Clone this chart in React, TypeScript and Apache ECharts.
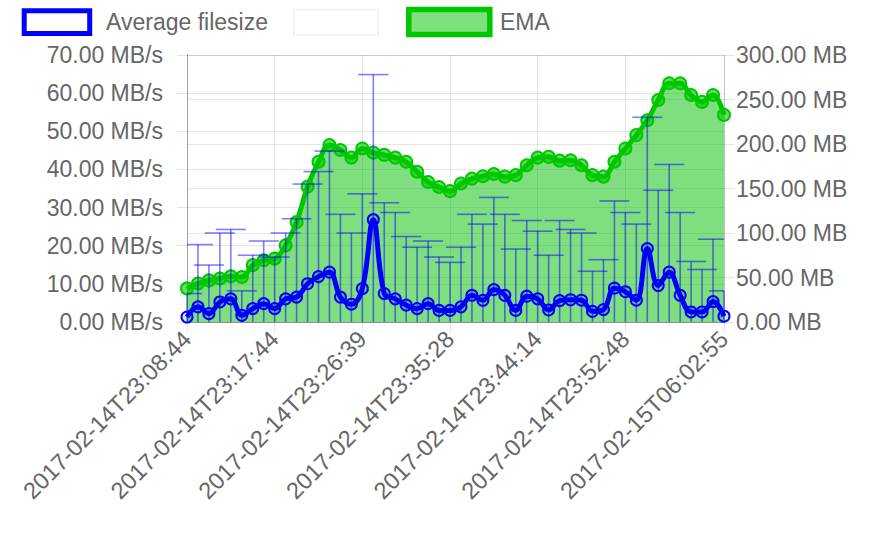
import React, { useEffect, useRef } from "react";
import * as echarts from "echarts";

const timeLabels: string[] = [
  "2017-02-14T23:08:44", "2017-02-14T23:09:52", "2017-02-14T23:10:59", "2017-02-14T23:12:06",
  "2017-02-14T23:13:14", "2017-02-14T23:14:21", "2017-02-14T23:15:29", "2017-02-14T23:16:36",
  "2017-02-14T23:17:44", "2017-02-14T23:18:51", "2017-02-14T23:19:58", "2017-02-14T23:21:04",
  "2017-02-14T23:22:11", "2017-02-14T23:23:18", "2017-02-14T23:24:25", "2017-02-14T23:25:32",
  "2017-02-14T23:26:39", "2017-02-14T23:27:45", "2017-02-14T23:28:51", "2017-02-14T23:29:57",
  "2017-02-14T23:31:03", "2017-02-14T23:32:10", "2017-02-14T23:33:16", "2017-02-14T23:34:22",
  "2017-02-14T23:35:28", "2017-02-14T23:36:34", "2017-02-14T23:37:40", "2017-02-14T23:38:45",
  "2017-02-14T23:39:51", "2017-02-14T23:40:57", "2017-02-14T23:42:03", "2017-02-14T23:43:08",
  "2017-02-14T23:44:14", "2017-02-14T23:45:18", "2017-02-14T23:46:22", "2017-02-14T23:47:27",
  "2017-02-14T23:48:31", "2017-02-14T23:49:35", "2017-02-14T23:50:39", "2017-02-14T23:51:44",
  "2017-02-14T23:52:48", "2017-02-14T23:53:52", "2017-02-14T23:54:57", "2017-02-14T23:56:01",
  "2017-02-14T23:57:05", "2017-02-14T23:58:10", "2017-02-14T23:59:14", "2017-02-15T00:00:18",
  "2017-02-15T00:01:23", "2017-02-15T06:02:55",
];

// Average filesize (MB, right axis)
const avgFilesize: number[] = [
  5.6, 17, 9.4, 22.5, 26, 7.5, 15, 20.6, 15, 26,
  28, 43, 51, 56, 28, 20, 37.5, 115, 32, 26,
  19, 15, 20.6, 13, 13, 17, 30, 24.4, 36.4, 30,
  13, 29, 26, 13.5, 24, 25, 24.5, 12, 14, 38,
  34, 24.5, 82.5, 41, 56, 30, 11.3, 11.3, 23, 6.5,
];

// Upper end of the error bars (MB, right axis)
const errorTop: number[] = [
  32, 87, 64, 100, 104, 35, 75, 91, 73, 100,
  116, 155, 169, 192, 121, 100, 144, 278, 134, 123,
  96, 84, 91, 73, 67, 84, 121, 110, 140, 121,
  82, 114, 102, 75, 114, 104, 100, 57, 70, 136,
  123, 110, 230, 148, 177, 123, 68, 59, 93, 35,
];

// EMA (MB/s, left axis)
const ema: number[] = [
  8.8, 10.1, 10.9, 11.4, 12.0, 11.8, 14.9, 16.2, 16.6, 20.1,
  26.2, 35.5, 42.0, 46.4, 45.1, 43.1, 45.5, 44.4, 43.8, 43.1,
  42.0, 39.4, 36.7, 35.4, 34.3, 36.3, 37.6, 38.2, 38.8, 38.1,
  38.5, 41.1, 43.1, 43.3, 42.3, 42.4, 41.1, 38.5, 38.1, 42.0,
  45.5, 49.0, 52.9, 58.2, 62.6, 62.6, 59.5, 57.7, 59.5, 54.3,
];

const leftTicks = { min: 0, max: 70, interval: 10 };
const rightTicks = { min: 0, max: 300, interval: 50 };

const FONT = "'Liberation Sans', Arial, Helvetica, sans-serif";
const TXT = "#666";

export default function App() {
  const ref = useRef<HTMLDivElement>(null);
  useEffect(() => {
    if (!ref.current) return;
    const chart = echarts.init(ref.current, undefined, { renderer: "svg" });
    const shown = (idx: number) => (idx % 8 === 0 && idx < 48) || idx === timeLabels.length - 1;
    const option: any = {
      animation: false,
      backgroundColor: "#fff",
      textStyle: { fontFamily: FONT },
      grid: { left: 187, right: 148, top: 55, bottom: 216 },
      graphic: [
        { type: "rect", shape: { x: 24.2, y: 10.8, width: 65.5, height: 22.7 }, style: { fill: "#fff", stroke: "#0000ff", lineWidth: 5 } },
        { type: "text", x: 106, y: 21.7, style: { text: "Average filesize", font: `23px ${FONT}`, fill: TXT, textVerticalAlign: "middle", verticalAlign: "middle" } },
        { type: "rect", shape: { x: 294, y: 9.5, width: 84, height: 25.5 }, style: { fill: "#fff", stroke: "#f3f3f3", lineWidth: 2 } },
        { type: "rect", shape: { x: 408.8, y: 9.5, width: 81, height: 25 }, style: { fill: "#7fe07f", stroke: "#00c800", lineWidth: 5.5 } },
        { type: "text", x: 500, y: 21.7, style: { text: "EMA", font: `23px ${FONT}`, fill: TXT, textVerticalAlign: "middle", verticalAlign: "middle" } },
      ],
      xAxis: {
        type: "category",
        data: timeLabels,
        boundaryGap: false,
        axisLine: { show: true, lineStyle: { color: "rgba(0,0,0,0.3)", width: 1 } },
        axisTick: { show: true, interval: shown, length: 10, lineStyle: { color: "rgba(0,0,0,0.1)" } },
        splitLine: { show: true, interval: shown, lineStyle: { color: "rgba(0,0,0,0.1)", width: 1 } },
        axisLabel: { interval: shown, rotate: 45, margin: 13, fontSize: 23.5, color: TXT, fontFamily: FONT },
      },
      yAxis: [
        {
          type: "value",
          position: "left",
          ...leftTicks,
          axisLine: { show: true, lineStyle: { color: "rgba(0,0,0,0.3)" } },
          axisTick: { show: true, length: 10, lineStyle: { color: "rgba(0,0,0,0.1)" } },
          splitLine: { show: true, lineStyle: { color: "rgba(0,0,0,0.1)" } },
          axisLabel: { margin: 24, fontSize: 23, color: TXT, fontFamily: FONT, formatter: (v: number) => v.toFixed(2) + " MB/s" },
        },
        {
          type: "value",
          position: "right",
          ...rightTicks,
          axisLine: { show: true, lineStyle: { color: "rgba(0,0,0,0.15)" } },
          axisTick: { show: true, length: 10, lineStyle: { color: "rgba(0,0,0,0.1)" } },
          splitLine: { show: true, lineStyle: { color: "rgba(0,0,0,0.1)" } },
          axisLabel: { margin: 12, fontSize: 23, color: TXT, fontFamily: FONT, formatter: (v: number) => v.toFixed(2) + " MB" },
        },
      ],
      series: [
        {
          name: "EMA",
          type: "line",
          yAxisIndex: 0,
          data: ema,
          smooth: 0.4,
          z: 1,
          symbol: "circle",
          symbolSize: 12,
          showSymbol: true,
          showAllSymbol: true,
          lineStyle: { color: "#00c800", width: 5 },
          itemStyle: { color: "rgba(0,200,0,0.6)", borderColor: "#00c800", borderWidth: 2 },
          areaStyle: { color: "rgba(0,192,0,0.5)", opacity: 1 },
        },
        {
          name: "errors",
          type: "custom",
          yAxisIndex: 1,
          z: 2,
          data: errorTop.map((v, i) => [i, v]),
          encode: { x: 0, y: 1 },
          renderItem: (params: any, api: any) => {
            const idx = api.value(0);
            const top = api.value(1);
            const p0 = api.coord([idx, 0]);
            const p1 = api.coord([idx, top]);
            const cs = params.coordSys;
            const x1 = Math.max(cs.x, p1[0] - 15);
            const x2 = Math.min(cs.x + cs.width, p1[0] + 15);
            const st = { stroke: "rgba(0,0,255,0.5)", lineWidth: 1.6 };
            return {
              type: "group",
              children: [
                { type: "line", shape: { x1: p0[0], y1: p0[1], x2: p1[0], y2: p1[1] }, style: st },
                { type: "line", shape: { x1, y1: p1[1], x2, y2: p1[1] }, style: st },
              ],
            };
          },
        },
        {
          name: "Average filesize",
          type: "line",
          yAxisIndex: 1,
          data: avgFilesize,
          smooth: 0.4,
          z: 3,
          symbol: "circle",
          symbolSize: 11,
          showSymbol: true,
          showAllSymbol: true,
          lineStyle: { color: "#0000ff", width: 5 },
          itemStyle: { color: "rgba(0,0,255,0.12)", borderColor: "#0000ff", borderWidth: 2 },
        },
      ],
    };
    chart.setOption(option);
    return () => chart.dispose();
  }, []);
  return <div ref={ref} style={{ position: "absolute", left: 0, top: 0, width: 872, height: 538 }} />;
}
